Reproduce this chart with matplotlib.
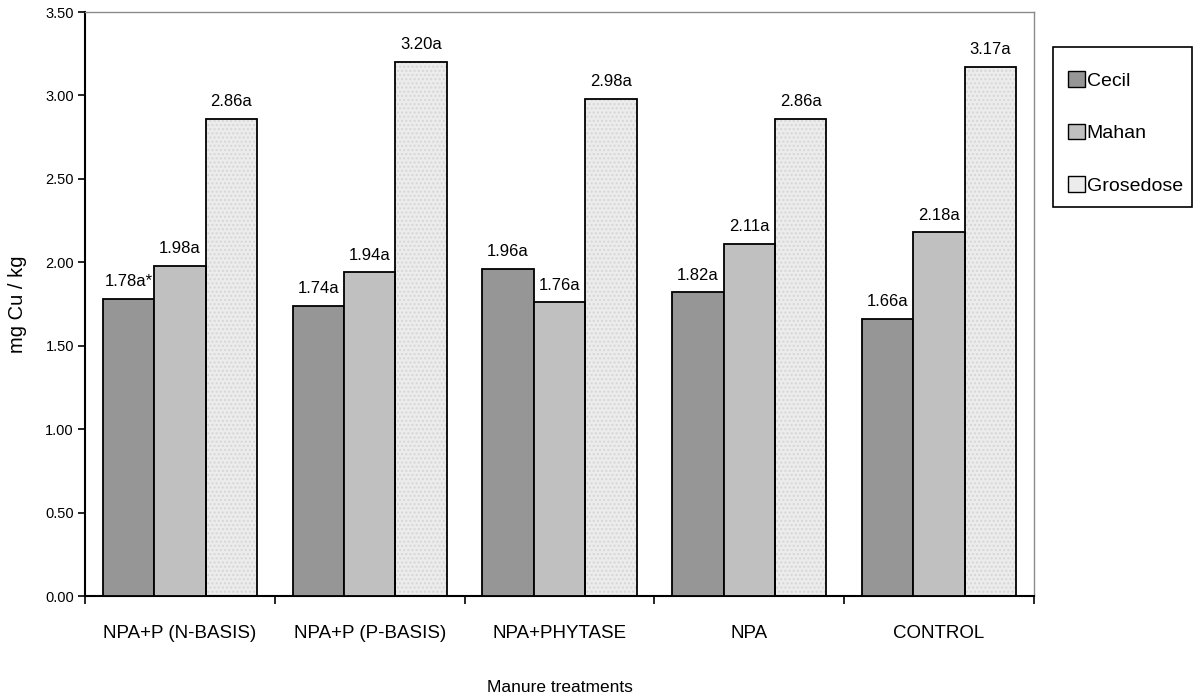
import matplotlib
matplotlib.use("Agg")
import matplotlib.pyplot as plt
from matplotlib.patches import Patch, Rectangle
import numpy as np

categories = ["NPA+P (N-BASIS)", "NPA+P (P-BASIS)", "NPA+PHYTASE", "NPA", "CONTROL"]
series_names = ["Cecil", "Mahan", "Grosedose"]
cecil = [1.78, 1.74, 1.96, 1.82, 1.66]
mahan = [1.98, 1.94, 1.76, 2.11, 2.18]
grosedose = [2.86, 3.20, 2.98, 2.86, 3.17]
cecil_suffix = ["a*", "a", "a", "a", "a"]
mahan_suffix = ["a", "a", "a", "a", "a"]
grosedose_suffix = ["a", "a", "a", "a", "a"]
yticks = [0.0, 0.5, 1.0, 1.5, 2.0, 2.5, 3.0, 3.5]

plt.rcParams['font.family'] = ['Liberation Sans', 'DejaVu Sans']

fig = plt.figure(figsize=(11.94, 7.0), dpi=100)
ax = fig.add_axes([85/1194, 1-596/700, (1034-85)/1194, (596-12)/700])

n = len(categories)
centers = np.arange(n) + 0.5
w = 0.271
data = [cecil, mahan, grosedose]
suffixes = [cecil_suffix, mahan_suffix, grosedose_suffix]
colors = ["#969696", "#c0c0c0", "#ececec"]
offsets = [-w, 0, w]
for k in range(3):
    xs = centers + offsets[k]
    if k == 2:
        ax.bar(xs, data[k], width=w, color=colors[k], edgecolor="#d6d6d6",
               linewidth=0, hatch="....", zorder=2)
        ax.bar(xs, data[k], width=w, facecolor="none", edgecolor="black",
               linewidth=1.3, zorder=3)
    else:
        ax.bar(xs, data[k], width=w, color=colors[k], edgecolor="black",
               linewidth=1.3, zorder=3)
    for x, v, s in zip(xs, data[k], suffixes[k]):
        ax.annotate(f"{v:.2f}{s}", (x, v), xytext=(0, 7), textcoords="offset points",
                    ha="center", va="bottom", fontsize=12)

ax.set_xlim(0, n)
ax.set_ylim(0, 3.5)
ax.set_yticks(yticks)
ax.set_yticklabels([f"{t:.2f}" for t in yticks], fontsize=10.5)
ax.set_xticks(np.arange(n + 1))
ax.set_xticklabels([])
ax.set_xticks(centers, minor=True)
ax.set_xticklabels(categories, minor=True, fontsize=13.5)
ax.tick_params(axis="x", which="minor", length=0, pad=21)
ax.tick_params(axis="x", which="major", length=6, width=1.2, direction="out")
ax.tick_params(axis="y", length=5, width=1.2, direction="out", pad=3)

for sp in ["left", "bottom"]:
    ax.spines[sp].set_linewidth(1.5)
    ax.spines[sp].set_color("black")
for sp in ["top", "right"]:
    ax.spines[sp].set_linewidth(1.0)
    ax.spines[sp].set_color("#8a8a8a")

ax.set_ylabel("mg Cu / kg", fontsize=14.5, labelpad=13)
fig.text(560 / 1194, 1 - 688 / 700, "Manure treatments",
         ha="center", va="center", fontsize=12.5)

# legend: frame drawn separately, entries via legend
fig.patches.append(Rectangle((1053/1194, 1-207/700), (1192-1053)/1194, (207-47)/700,
                             transform=fig.transFigure, facecolor="white",
                             edgecolor="black", linewidth=1.2, zorder=1))
leg_handles = [Patch(facecolor=colors[k], edgecolor="black", linewidth=1.0) for k in range(3)]
leg = fig.legend(leg_handles, series_names, loc="center left",
                 bbox_to_anchor=(1068/1194, 1-133/700), frameon=False,
                 fontsize=14, handlelength=0.85, handleheight=0.85, handletextpad=0.12,
                 labelspacing=1.75, borderpad=0, borderaxespad=0)

fig.savefig("out.png", dpi=100)
